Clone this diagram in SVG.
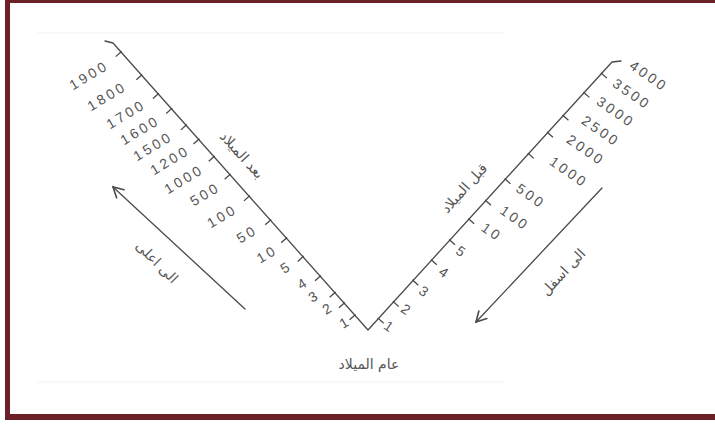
<svg xmlns="http://www.w3.org/2000/svg" width="715" height="425" viewBox="0 0 715 425">
<style>
.ax{stroke:#4a4a4a;stroke-width:1.3;fill:none;stroke-linecap:round;stroke-linejoin:round}
.tk{stroke:#4a4a4a;stroke-width:1.3}
.nl{font-family:"Liberation Sans",Arial,sans-serif;font-size:14px;fill:#555;letter-spacing:3px;text-anchor:middle;dominant-baseline:central}
.ar{font-family:"DejaVu Sans","Noto Sans",sans-serif;font-size:14px;fill:#555;text-anchor:middle;dominant-baseline:central}
.fr{fill:#6b2127}
.faint{stroke:#f1f1f1;stroke-width:1}
</style>
<defs>
<marker id="ah" markerUnits="userSpaceOnUse" markerWidth="16" markerHeight="16" refX="0" refY="0" viewBox="-13 -8 16 16" orient="auto">
<path d="M-10,-5.5 L0,0 L-10,5.5" fill="none" stroke="#4a4a4a" stroke-width="1.6" stroke-linecap="round"/>
</marker>
</defs>
<rect width="715" height="425" fill="#ffffff"/>
<g id="frame">
<rect class="fr" x="5" y="0" width="710" height="3"/>
<rect class="fr" x="5" y="0" width="5" height="420"/>
<rect class="fr" x="5" y="414" width="710" height="6"/>
<line class="faint" x1="37" y1="33" x2="505" y2="33"/>
<line class="faint" x1="37" y1="382" x2="505" y2="382"/>
</g>
<g id="connectors">
<path id="axes" class="ax" d="M105,41 L113,43 L368,330 L612,62 L621,61"/>
<line id="arrow-up" class="ax" x1="245" y1="309" x2="113" y2="187" marker-end="url(#ah)"/>
<line id="arrow-down" class="ax" x1="602" y1="188" x2="476" y2="322" marker-end="url(#ah)"/>
</g>
<g id="left-ticks" transform="translate(113,43) rotate(48.37)">
<line class="tk" x1="12" y1="-1" x2="12" y2="7"/>
<line class="tk" x1="43" y1="-1" x2="43" y2="7"/>
<line class="tk" x1="68" y1="-1" x2="68" y2="7"/>
<line class="tk" x1="88" y1="-1" x2="88" y2="7"/>
<line class="tk" x1="110" y1="-1" x2="110" y2="7"/>
<line class="tk" x1="129" y1="-1" x2="129" y2="7"/>
<line class="tk" x1="152" y1="-1" x2="152" y2="7"/>
<line class="tk" x1="176" y1="-1" x2="176" y2="7"/>
<line class="tk" x1="205" y1="-1" x2="205" y2="7"/>
<line class="tk" x1="237" y1="-1" x2="237" y2="7"/>
<line class="tk" x1="261" y1="-1" x2="261" y2="7"/>
<line class="tk" x1="286" y1="-1" x2="286" y2="7"/>
<line class="tk" x1="312" y1="-1" x2="312" y2="7"/>
<line class="tk" x1="334" y1="-1" x2="334" y2="7"/>
<line class="tk" x1="348" y1="-1" x2="348" y2="7"/>
<line class="tk" x1="364" y1="-1" x2="364" y2="7"/>
</g>
<g id="right-ticks" transform="translate(368,330) rotate(-47.68)">
<line class="tk" x1="15.5" y1="-1" x2="15.5" y2="7"/>
<line class="tk" x1="38" y1="-1" x2="38" y2="7"/>
<line class="tk" x1="67" y1="-1" x2="67" y2="7"/>
<line class="tk" x1="94.5" y1="-1" x2="94.5" y2="7"/>
<line class="tk" x1="121.6" y1="-1" x2="121.6" y2="7"/>
<line class="tk" x1="150" y1="-1" x2="150" y2="7"/>
<line class="tk" x1="175" y1="-1" x2="175" y2="7"/>
<line class="tk" x1="204" y1="-1" x2="204" y2="7"/>
<line class="tk" x1="238.5" y1="-1" x2="238.5" y2="7"/>
<line class="tk" x1="267" y1="-1" x2="267" y2="7"/>
<line class="tk" x1="290" y1="-1" x2="290" y2="7"/>
<line class="tk" x1="321" y1="-1" x2="321" y2="7"/>
<line class="tk" x1="347" y1="-1" x2="347" y2="7"/>
</g>
<g id="left-labels">
<text class="nl" transform="translate(89,75) rotate(-31)">1900</text>
<text class="nl" transform="translate(107,96) rotate(-31)">1800</text>
<text class="nl" transform="translate(126,114) rotate(-31)">1700</text>
<text class="nl" transform="translate(140,130) rotate(-31)">1600</text>
<text class="nl" transform="translate(153,146) rotate(-31)">1500</text>
<text class="nl" transform="translate(170,160) rotate(-31)">1200</text>
<text class="nl" transform="translate(184,179) rotate(-31)">1000</text>
<text class="nl" transform="translate(205,194) rotate(-31)">500</text>
<text class="nl" transform="translate(222,216) rotate(-31)">100</text>
<text class="nl" transform="translate(247,234) rotate(-31)">50</text>
<text class="nl" transform="translate(267,254) rotate(-31)">10</text>
<text class="nl" transform="translate(286,267) rotate(-31)">5</text>
<text class="nl" transform="translate(303,283) rotate(-31)">4</text>
<text class="nl" transform="translate(314,296) rotate(-31)">3</text>
<text class="nl" transform="translate(328,308) rotate(-31)">2</text>
<text class="nl" transform="translate(345,322) rotate(-31)">1</text>
</g>
<g id="right-labels">
<text class="nl" transform="translate(390,327) rotate(35)">1</text>
<text class="nl" transform="translate(407,310) rotate(35)">2</text>
<text class="nl" transform="translate(425,292) rotate(35)">3</text>
<text class="nl" transform="translate(445,273) rotate(35)">4</text>
<text class="nl" transform="translate(462,252) rotate(35)">5</text>
<text class="nl" transform="translate(492,232) rotate(35)">10</text>
<text class="nl" transform="translate(515,218) rotate(35)">100</text>
<text class="nl" transform="translate(531,196) rotate(35)">500</text>
<text class="nl" transform="translate(569,172) rotate(35)">1000</text>
<text class="nl" transform="translate(586,150) rotate(35)">2000</text>
<text class="nl" transform="translate(601,131) rotate(35)">2500</text>
<text class="nl" transform="translate(616,112) rotate(35)">3000</text>
<text class="nl" transform="translate(632,94) rotate(35)">3500</text>
<text class="nl" transform="translate(649,76) rotate(35)">4000</text>
</g>
<g id="label-after"><text class="ar" transform="translate(242,155) rotate(48)">بعد الميلاد</text></g>
<g id="label-before"><text class="ar" transform="translate(464,188) rotate(-48)">قبل الميلاد</text></g>
<g id="label-year"><text class="ar" x="369" y="364">عام الميلاد</text></g>
<g id="label-up"><text class="ar" transform="translate(157,262) rotate(45)">الى اعلى</text></g>
<g id="label-down"><text class="ar" transform="translate(563,272) rotate(-47)">الى اسفل</text></g>
</svg>
